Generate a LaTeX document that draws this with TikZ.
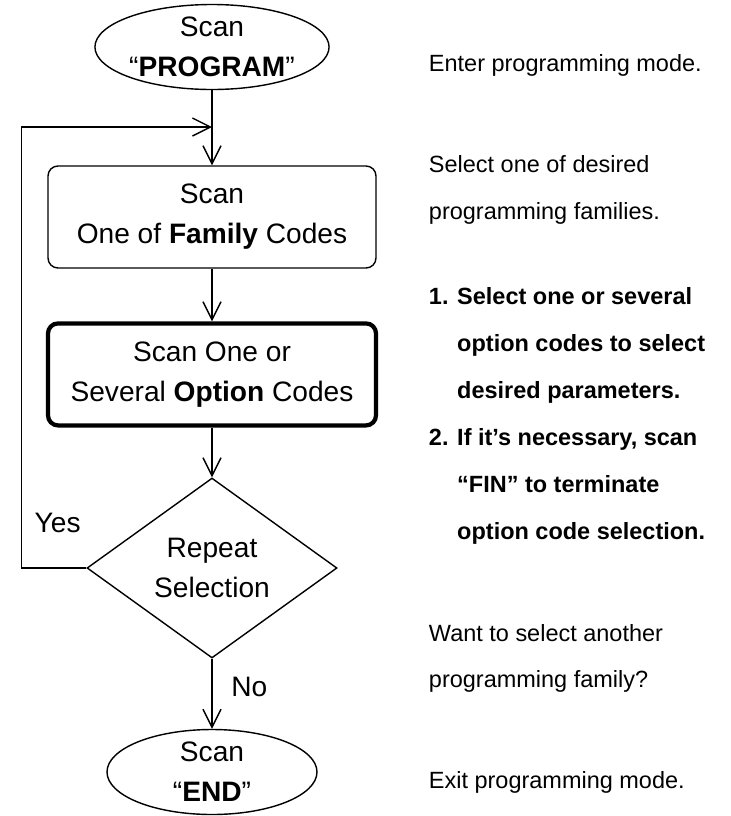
\documentclass[tikz,border=0pt]{standalone}
\usepackage{fontspec}
\setmainfont{Liberation Sans}
\usetikzlibrary{shapes.geometric, arrows.meta, positioning}

\begin{document}
\begin{tikzpicture}[
        term/.style={ellipse, draw, line width=1pt, minimum width=5.25cm, minimum height=2.125cm, inner xsep=0pt, inner ysep=-5pt, align=center, font=\fontsize{20}{28.5}\selectfont},
        proc/.style={rectangle, draw, line width=1pt, rounded corners=0.25cm, minimum width=8.2cm, minimum height=2.55cm, align=center, font=\fontsize{20}{28.5}\selectfont},
        decide/.style={diamond, draw, line width=1pt, minimum width=6.25cm, minimum height=4.5cm, aspect=1.39, inner sep=0pt, align=center, font=\fontsize{20}{28.5}\selectfont},
        note/.style={anchor=west, align=left, font=\fontsize{16.7}{33}\selectfont},
        tag/.style={font=\fontsize{20}{24}\selectfont},
        arrow/.style={-{Straight Barb[length=4.5mm, width=4.5mm]}, line width=1pt}
    ]
        \useasboundingbox (0,0) rectangle (18.275,-20.4);

        % flow chart
        \node[term] (start) at (5.3,-1.175) {Scan\\“\textbf{PROGRAM}”};
        \node[proc] (fam) at (5.3,-5.425) {Scan\\One of \textbf{Family} Codes};
        \node[proc, line width=3pt] (opt) at (5.3,-9.36) {Scan One or\\Several \textbf{Option} Codes};
        \node[decide] (rep) at (5.3,-14.2) {Repeat\\Selection};
        \node[term] (stop) at (5.3,-19.3) {Scan\\“\textbf{END}”};
        \coordinate (jn) at (5.3,-3.175);

        \draw[arrow] (start) -- (fam);
        \draw[arrow] (fam) -- (opt);
        \draw[arrow] (opt) -- (rep);
        \draw[arrow] (rep) -- node[tag, pos=0.4, right=0.35cm] {No} (stop);
        \draw[arrow] (rep.west) -- ++(-1.625,0) node[tag, pos=1, above right={0.75cm and 0.2cm}] {Yes} |- (jn);

        % notes
        \node[note] (n1) at (10.6,-1.625) {Enter programming mode.};
        \node[note] (n2) at (10.6,-4.75) {Select one of desired\\programming families.};
        \node[note, font=\fontsize{16.7}{33.4}\selectfont\bfseries] (n3) at (10.6,-10.39) {1. Select one or several\\\hphantom{1. }option codes to select\\\hphantom{1. }desired parameters.\\2. If it’s necessary, scan\\\hphantom{2. }“FIN” to terminate\\\hphantom{2. }option code selection.};
        \node[note] (n4) at (10.6,-16.46) {Want to select another\\programming family?};
        \node[note] (n5) at (10.6,-19.55) {Exit programming mode.};
\end{tikzpicture}
\end{document}
